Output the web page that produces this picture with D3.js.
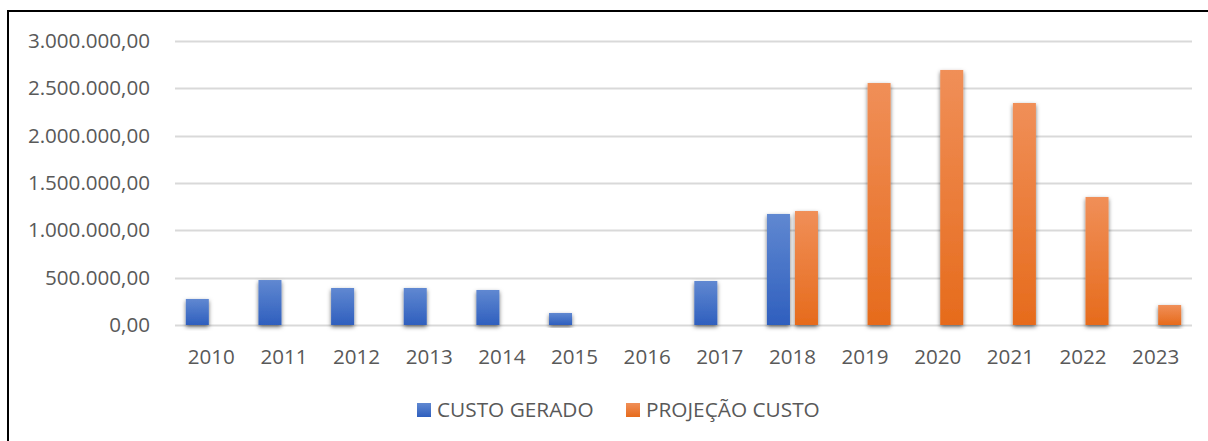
<!DOCTYPE html>
<html>
<head>
<meta charset="utf-8">
<script src="https://cdn.jsdelivr.net/npm/d3@7"></script>
<style>
  body { margin: 0; background: #fff; }
  svg { display: block; font-family: "Open Sans", sans-serif; }
</style>
</head>
<body>
<svg id="chart" width="1208" height="441"></svg>
<script>
// chart data
const years = ["2010", "2011", "2012", "2013", "2014", "2015", "2016", "2017", "2018", "2019", "2020", "2021", "2022", "2023"];
const custoGerado = [275000, 475000, 391000, 391000, 370000, 127000, 0, 465000, 1173000, 0, 0, 0, 0, 0];
const projecaoCusto = [0, 0, 0, 0, 0, 0, 0, 0, 1204000, 2556000, 2694000, 2345000, 1352000, 211000];
const yTicks = [0, 500000, 1000000, 1500000, 2000000, 2500000, 3000000];
const seriesNames = ["CUSTO GERADO", "PROJEÇÃO CUSTO"];

const width = 1208;
const height = 441;
const margin = { left: 175, right: 16, top: 41, bottom: 116 };

const svg = d3.select("#chart");

// outer frame (runs off the right and bottom edge)
svg.append("rect")
  .attr("x", 8).attr("y", 11)
  .attr("width", 1240).attr("height", 460)
  .attr("fill", "none")
  .attr("stroke", "#000")
  .attr("stroke-width", 2);

const defs = svg.append("defs");
const gradBlue = defs.append("linearGradient").attr("id", "gBlue").attr("x1", 0).attr("y1", 0).attr("x2", 0).attr("y2", 1);
gradBlue.append("stop").attr("offset", "0%").attr("stop-color", "#6088d1");
gradBlue.append("stop").attr("offset", "100%").attr("stop-color", "#2f5fbe");
const gradOrange = defs.append("linearGradient").attr("id", "gOrange").attr("x1", 0).attr("y1", 0).attr("x2", 0).attr("y2", 1);
gradOrange.append("stop").attr("offset", "0%").attr("stop-color", "#f08f58");
gradOrange.append("stop").attr("offset", "100%").attr("stop-color", "#e66b1c");

const shadow = defs.append("filter").attr("id", "shadow")
  .attr("x", "-50%").attr("y", "-20%").attr("width", "200%").attr("height", "140%");
shadow.append("feDropShadow")
  .attr("dx", 0).attr("dy", 2)
  .attr("stdDeviation", 2.2)
  .attr("flood-color", "#000")
  .attr("flood-opacity", 0.55);

const x = d3.scaleBand()
  .domain(years)
  .range([margin.left, width - margin.right])
  .paddingInner(0)
  .paddingOuter(0);

const y = d3.scaleLinear()
  .domain([0, 3000000])
  .range([325, margin.top]);

const fmt = v => d3.format(",.2f")(v).replace(/,/g, "#").replace(".", ",").replace(/#/g, ".");

// gridlines
svg.append("g")
  .selectAll("line")
  .data(yTicks)
  .join("line")
  .attr("x1", margin.left).attr("x2", width - margin.right)
  .attr("y1", d => Math.round(y(d)) + 0.5).attr("y2", d => Math.round(y(d)) + 0.5)
  .attr("stroke", "#d9d9d9")
  .attr("stroke-width", 2);

// y axis labels
svg.append("g")
  .selectAll("text")
  .data(yTicks)
  .join("text")
  .attr("x", 150)
  .attr("y", d => y(d) + 7)
  .attr("text-anchor", "end")
  .attr("font-size", 20.6)
  .attr("fill", "#595959")
  .text(fmt);

// bars
const barW = 23, gap = 5;
const series = [
  { values: custoGerado, fill: "url(#gBlue)", dx: -barW - gap / 2 },
  { values: projecaoCusto, fill: "url(#gOrange)", dx: gap / 2 }
];

series.forEach(s => {
  svg.append("g")
    .selectAll("rect")
    .data(years.map((yr, i) => ({ yr, v: s.values[i] })).filter(d => d.v > 0))
    .join("rect")
    .attr("x", d => x(d.yr) + x.bandwidth() / 2 + s.dx)
    .attr("y", d => y(d.v))
    .attr("width", barW)
    .attr("height", d => y(0) - y(d.v))
    .attr("fill", s.fill)
    .attr("filter", "url(#shadow)");
});

// x axis labels
svg.append("g")
  .selectAll("text")
  .data(years)
  .join("text")
  .attr("x", d => x(d) + x.bandwidth() / 2)
  .attr("y", 364)
  .attr("text-anchor", "middle")
  .attr("font-size", 20.6)
  .attr("fill", "#595959")
  .text(d => d);

// legend
const legend = svg.append("g");
const legendItems = [
  { name: seriesNames[0], fill: "url(#gBlue)", x: 417 },
  { name: seriesNames[1], fill: "url(#gOrange)", x: 626 }
];
legendItems.forEach(it => {
  legend.append("rect")
    .attr("x", it.x).attr("y", 403)
    .attr("width", 14).attr("height", 14)
    .attr("fill", it.fill);
  legend.append("text")
    .attr("x", it.x + 20)
    .attr("y", 417)
    .attr("font-size", 20.8)
    .attr("fill", "#595959")
    .text(it.name);
});
</script>
</body>
</html>
